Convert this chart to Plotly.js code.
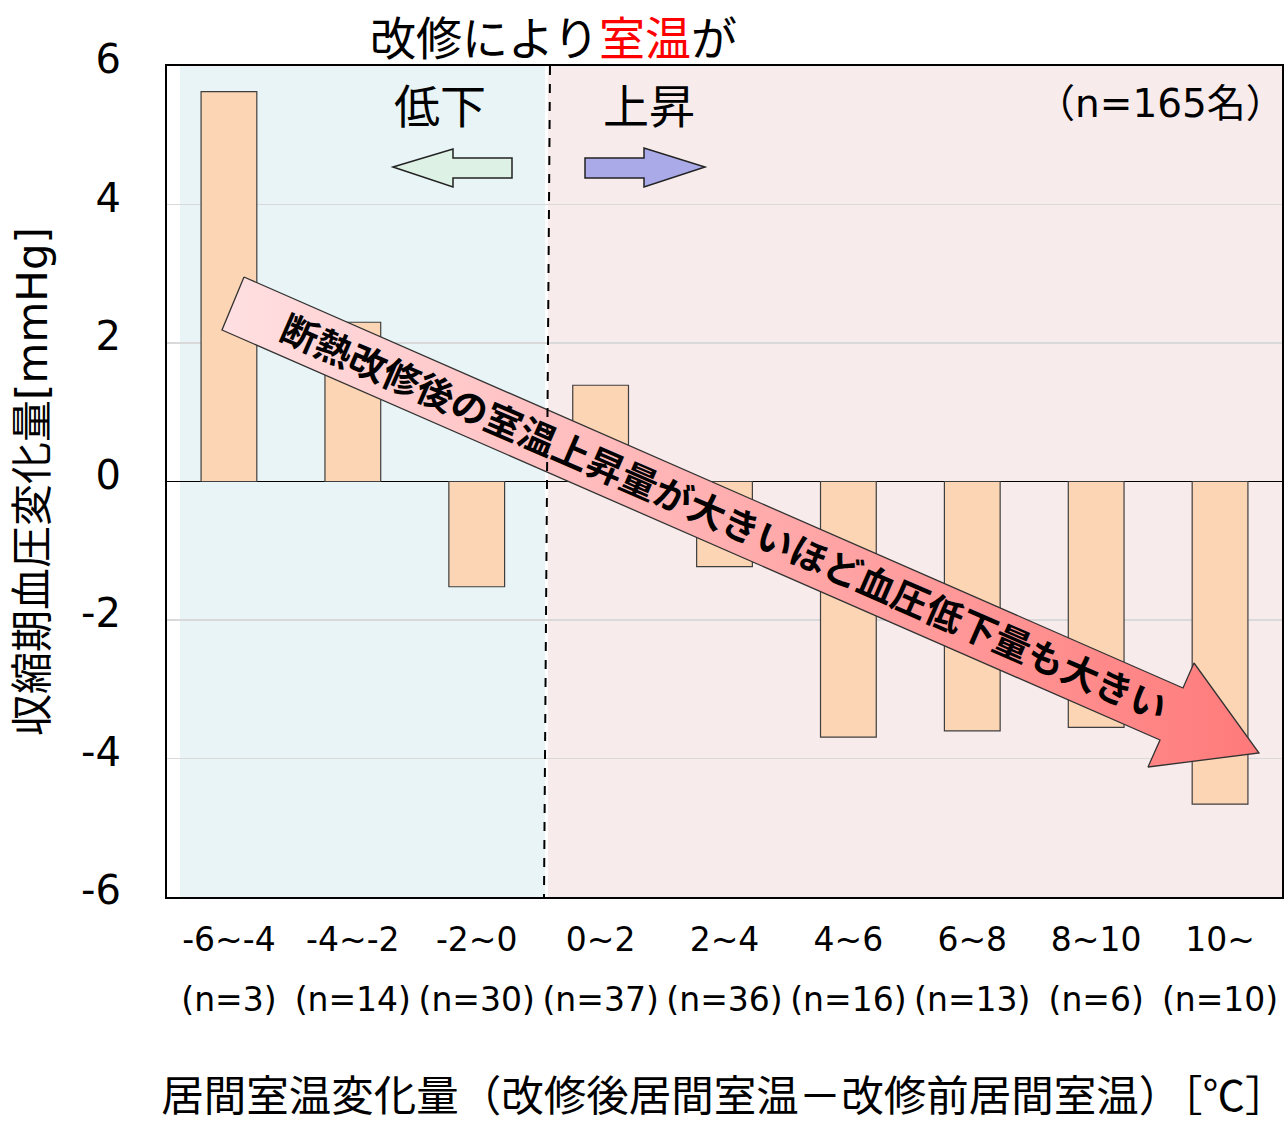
<!DOCTYPE html>
<html>
<head>
<meta charset="utf-8">
<script src="https://cdn.plot.ly/plotly-3.0.1.min.js"></script>
<style>html,body{margin:0;padding:0;background:#fff;}</style>
</head>
<body>
<div id="chart" style="width:1288px;height:1123px;"></div>
<script>
// ---- data ----
const categories = ['-6~-4', '-4~-2', '-2~0', '0~2', '2~4', '4~6', '6~8', '8~10', '10~'];
const nLabels = ['(n=3)', '(n=14)', '(n=30)', '(n=37)', '(n=36)', '(n=16)', '(n=13)', '(n=6)', '(n=10)'];
const bpChange = [5.63, 2.30, -1.52, 1.39, -1.23, -3.69, -3.60, -3.55, -4.66];
const yTickVals = [-6, -4, -2, 0, 2, 4, 6];
const yTickText = ['-6', '-4', '-2', '0', '2', '4', '6'];

const chartTitle = '改修により<span style="color:#ff0000">室温</span>が';
const yTitle = '収縮期血圧変化量[mmHg]';
const xTitle = '居間室温変化量（改修後居間室温－改修前居間室温）［℃］';
const bigArrowText = '断熱改修後の室温上昇量が大きいほど血圧低下量も大きい';

// ---- layout helpers (pixel -> paper) ----
const W = 1288, H = 1123;
const PL = 167, PR = 1282, PT = 66, PB = 897;
const px2x = p => (p - PL) / (PR - PL);
const py2y = p => (PB - p) / (PB - PT);
const pathOf = pts => 'M' + pts.map(p => px2x(p[0]).toFixed(5) + ',' + py2y(p[1]).toFixed(5)).join(' L') + ' Z';

const leftArrowPx = [[393,167],[453,149],[453,158],[512,158],[512,178],[453,178],[453,187]];
const rightArrowPx = [[585,158],[644,158],[644,148],[705,167],[644,187],[644,178],[585,178]];
const bigArrowPx = [[244,277],[1183,688],[1194,663],[1259,753],[1148,767],[1160,740],[222,330],[244,277]];

const FONT = 'DejaVu Sans, Noto Sans CJK JP, sans-serif';
const CJK = 'Noto Sans CJK JP, DejaVu Sans, sans-serif';

const traces = [
  {
    type: 'bar', x: categories, y: bpChange, width: 0.45,
    marker: {color: '#fcd5b4', line: {color: '#3f3f3f', width: 1.2}},
    hoverinfo: 'x+y', showlegend: false
  },
  {
    type: 'scatter', x: categories, y: categories.map(() => null), xaxis: 'x2', yaxis: 'y',
    mode: 'markers', showlegend: false, hoverinfo: 'skip'
  },
  {
    type: 'scatter', xaxis: 'x3', yaxis: 'y3',
    x: bigArrowPx.map(p => px2x(p[0])), y: bigArrowPx.map(p => py2y(p[1])),
    mode: 'lines', fill: 'toself',
    fillgradient: {type: 'horizontal', colorscale: [[0, '#ffe0e2'], [1, '#ff7a7a']]},
    line: {color: '#333333', width: 1.3},
    showlegend: false, hoverinfo: 'skip'
  }
];

const layout = {
  width: W, height: H,
  margin: {l: PL, r: W - PR, t: PT, b: H - PB, pad: 0},
  paper_bgcolor: '#ffffff', plot_bgcolor: '#ffffff',
  font: {family: FONT, color: '#000000'},
  showlegend: false,
  xaxis: {
    type: 'category', range: [-0.5, 8.5], fixedrange: true,
    tickvals: categories, ticktext: categories,
    tickfont: {family: FONT, size: 33, color: '#000'},
    ticks: '', ticklabelstandoff: 12,
    showline: true, mirror: true, linecolor: '#000', linewidth: 2,
    showgrid: false, zeroline: false
  },
  xaxis2: {
    type: 'category', overlaying: 'x', anchor: 'y', side: 'bottom',
    range: [-0.5, 8.5], fixedrange: true,
    tickvals: categories, ticktext: nLabels,
    tickfont: {family: FONT, size: 33, color: '#000'},
    ticks: '', ticklabelstandoff: 80,
    showline: false, showgrid: false, zeroline: false,
    title: {text: xTitle, font: {family: CJK, size: 42.5, color: '#000'}, standoff: 66}
  },
  xaxis3: {overlaying: 'x', range: [0, 1], visible: false, fixedrange: true},
  yaxis3: {overlaying: 'y', range: [0, 1], visible: false, fixedrange: true},
  yaxis: {
    range: [-6, 6], fixedrange: true,
    tickvals: yTickVals, ticktext: yTickText,
    tickfont: {family: FONT, size: 40, color: '#000'},
    ticks: '', ticklabelstandoff: 36, ticklabelshift: -7,
    showline: true, mirror: true, linecolor: '#000', linewidth: 2,
    showgrid: true, gridcolor: '#d9d9d9', gridwidth: 1.5,
    zeroline: true, zerolinecolor: '#000', zerolinewidth: 1.8,
    title: {text: yTitle, font: {family: FONT, size: 42, color: '#000'}, standoff: 20}
  },
  shapes: [
    {type: 'rect', xref: 'paper', yref: 'paper', x0: px2x(180), x1: px2x(545), y0: 0, y1: 1,
     fillcolor: '#e8f4f6', line: {width: 0}, layer: 'below'},
    {type: 'rect', xref: 'paper', yref: 'paper', x0: px2x(548), x1: 1, y0: 0, y1: 1,
     fillcolor: '#f8ebeb', line: {width: 0}, layer: 'below'},
    {type: 'line', xref: 'paper', yref: 'paper', x0: px2x(550), y0: 1, x1: px2x(544), y1: 0,
     line: {color: '#000', width: 2, dash: 'dash'}},
    {type: 'path', xref: 'paper', yref: 'paper', path: pathOf(leftArrowPx),
     fillcolor: '#ddf1e5', line: {color: '#222', width: 1.5}},
    {type: 'path', xref: 'paper', yref: 'paper', path: pathOf(rightArrowPx),
     fillcolor: '#abaae8', line: {color: '#222', width: 1.5}}
  ],
  annotations: [
    {text: chartTitle, xref: 'paper', yref: 'paper', x: px2x(553), y: py2y(35), xanchor: 'center', yanchor: 'middle',
     showarrow: false, font: {family: CJK, size: 46, color: '#000'}},
    {text: '低下', xref: 'paper', yref: 'paper', x: px2x(440), y: py2y(103), xanchor: 'center', yanchor: 'middle',
     showarrow: false, font: {family: CJK, size: 46, color: '#000'}},
    {text: '上昇', xref: 'paper', yref: 'paper', x: px2x(649), y: py2y(103), xanchor: 'center', yanchor: 'middle',
     showarrow: false, font: {family: CJK, size: 46, color: '#000'}},
    {text: '（n=165名）', xref: 'paper', yref: 'paper', x: px2x(1287), y: py2y(103), xanchor: 'right', yanchor: 'middle',
     showarrow: false, font: {family: FONT, size: 39, color: '#000'}},
    {text: '<b>' + bigArrowText + '</b>', xref: 'paper', yref: 'paper', x: px2x(725), y: py2y(516),
     xanchor: 'center', yanchor: 'middle', textangle: 23.5,
     showarrow: false, font: {family: CJK, size: 37, color: '#000'}}
  ]
};

Plotly.newPlot('chart', traces, layout, {displayModeBar: false, staticPlot: true});
</script>
</body>
</html>
